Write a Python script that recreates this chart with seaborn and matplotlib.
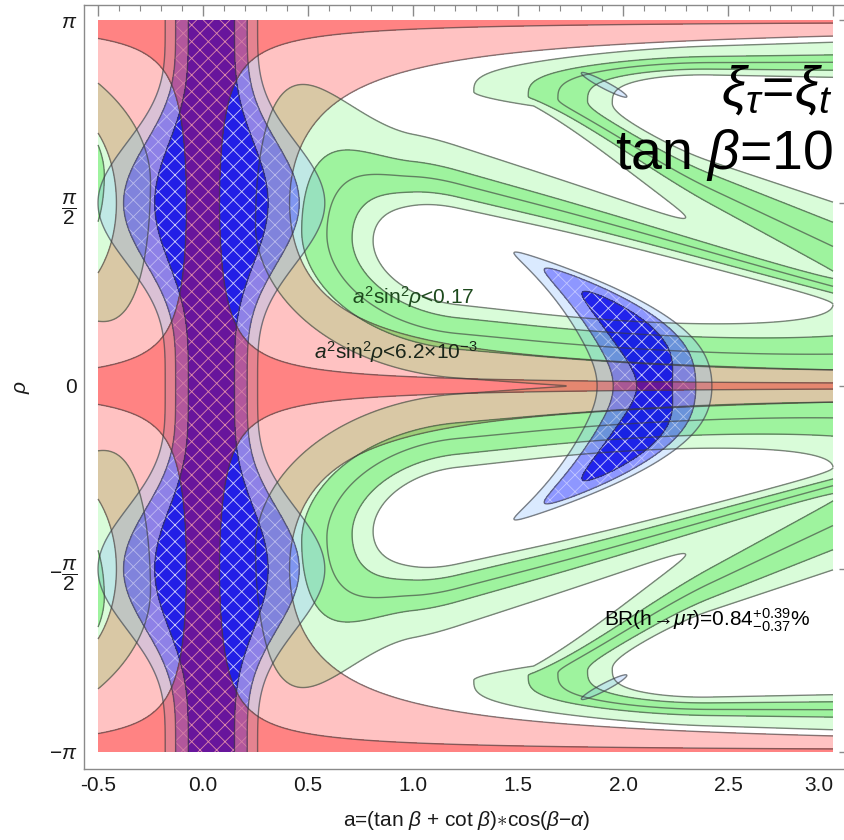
import numpy as np
import matplotlib
matplotlib.use("Agg")
import matplotlib.pyplot as plt
import seaborn as sns

sns.set_theme(style="white")
plt.rcParams['font.family'] = ['Liberation Sans', 'DejaVu Sans']
plt.rcParams['mathtext.fontset'] = 'custom'
plt.rcParams['mathtext.rm'] = 'Liberation Sans'
plt.rcParams['mathtext.it'] = 'Liberation Sans:italic'
plt.rcParams['mathtext.bf'] = 'Liberation Sans:bold'
plt.rcParams['hatch.color'] = (1, 1, 1, 0.35)
plt.rcParams['hatch.linewidth'] = 0.6

# constraint levels
red_levels = [6.2e-3, 0.17]                 # a^2 sin^2 rho bounds
green_levels = [1.0, 1.25, 1.55, 1.85, 2.4]  # BR(h->mu tau) band edges (scaled)
blue_levels = [0.25, 0.6, 1.0]              # signal strength fit contours

# green lobes: c0, c1, a0, wu0, wu1, wu2, wl0, wl1, tip, tip_len, end, end_len, upper_power
lobe_B = [1.20, -0.25, 1.00, 0.41, -0.14, 1.2, 0.46, -0.05, 1.21, 0.40, 1.55, 1.45, 1.0]
lobe_A = [2.40, -0.15, 2.13, 0.28, 0.115, 0.0, 0.30, 0.45, 2.42, 0.471, 99.0, 1.0, 1.5]

# blue regions
boomerang = [2.15, 0.5, 0.30, 0.15, 1.15, 0.17]  # a_tip, bend, width, width_bend, rho_len, waist
column = [0.04, 0.22, 0.32]                      # center, base width, bulge
sliver = [1.91, 2.585, 0.215, -0.21, 0.15, 0.025]

xticks = [-0.5, 0.0, 0.5, 1.0, 1.5, 2.0, 2.5, 3.0]
yticks = [-np.pi, -np.pi / 2, 0, np.pi / 2, np.pi]
ytick_labels = [r'$-\pi$', r'$-\dfrac{\pi}{2}$', '0', r'$\dfrac{\pi}{2}$', r'$\pi$']

a = np.linspace(-0.5, 3.0, 1200)
rho = np.linspace(-np.pi, np.pi, 1200)
A, RHO = np.meshgrid(a, rho)

# negative a is the same point as (|a|, rho + pi)
am = np.abs(A)
rm = np.where(A < 0, (RHO + 2 * np.pi) % (2 * np.pi) - np.pi, RHO)
ra = np.abs(rm)


def lobe_dist(x, r, p):
    c0, c1, a0, wu0, wu1, wu2, wl0, wl1, t, l, e, m, pu = p
    c = c0 + c1 * (x - a0)
    wu = np.clip(wu0 + wu1 * (x - a0) + wu2 * np.minimum(0, x - a0) ** 2, 0.05, None)
    wl = np.clip(wl0 + wl1 * (x - a0), 0.05, None)
    q = np.where(r > c, (np.abs(r - c) / wu) ** pu, np.abs(r - c) / wl)
    T = np.maximum(0, (t - x) / l)
    E = np.maximum(0, (x - e) / m)
    return np.sqrt(q ** 2 + T ** 2 + E ** 2)


dA = lobe_dist(am, ra, lobe_A)
dB = lobe_dist(am, ra, lobe_B)
k = 6.0
G = -np.log(np.exp(-k * dA) + np.exp(-k * dB)) / k

R = A ** 2 * np.sin(RHO) ** 2

# blue
ab, bend, wb, wbb, rl, waist = boomerang
Qb = ((am - (ab - bend * rm ** 2)) / (wb - wbb * rm ** 2)) ** 2 + (rm / rl) ** 4 \
    + waist * np.exp(-(rm / 0.35) ** 2)
Qb = np.where(am > 0.5, Qb, 10.0)
c0, cw, cb = column
Qc = ((A - c0) / (cw + cb * np.sin(RHO) ** 4)) ** 2
sa, sr, da, dr, sl, sw = sliver
nrm = np.hypot(da, dr)
u = ((am - sa) * da + (ra - sr) * dr) / nrm
v = (-(am - sa) * dr + (ra - sr) * da) / nrm
Qs = 0.75 + 0.25 * ((u / sl) ** 2 + (v / sw) ** 2)
Q = np.minimum(np.minimum(Qb, Qc), Qs)

fig = plt.figure(figsize=(8.44, 8.40), dpi=100)
ax = fig.add_axes([84 / 844, 71 / 840, 766 / 844, 764 / 840])

line_kw = dict(colors='#3c3c3c', linewidths=1.0, alpha=0.62)

# pink: a^2 sin^2 rho < 0.17
ax.contourf(A, RHO, R, levels=[-1, red_levels[1]], colors=['#ff0000'], alpha=0.24)

# green: BR(h -> mu tau)
ax.contourf(A, RHO, G, levels=[green_levels[0], green_levels[-1]], colors=['#00ee00'], alpha=0.15)
ax.contourf(A, RHO, G, levels=[green_levels[1], green_levels[3]], colors=['#00dd00'], alpha=0.27)

# blue: higgs fit
ax.contourf(A, RHO, Q, levels=[-1, blue_levels[2]], colors=['#8cc0ff'], alpha=0.32)
ax.contourf(A, RHO, Q, levels=[-1, blue_levels[1]], colors=['#3333ff'], alpha=0.45, hatches=['xx'])
ax.contourf(A, RHO, Q, levels=[-1, blue_levels[0]], colors=['#0000e6'], alpha=0.76, hatches=['xx'])

# dark red: a^2 sin^2 rho < 6.2e-3
ax.contourf(A, RHO, R, levels=[-1, red_levels[0]], colors=['#ff0000'], alpha=0.32)

ax.contour(A, RHO, R, levels=red_levels, **line_kw)
ax.contour(A, RHO, G, levels=green_levels, **line_kw)
ax.contour(A, RHO, Q, levels=blue_levels, **line_kw)

ax.set_xlim(-0.5 - 14 / 210, 3.0 + 17 / 210)
ax.set_ylim(-np.pi - 17 / 116.5, np.pi + 15 / 116.5)

ax.set_xticks(xticks)
ax.set_xticklabels([f'{t:.1f}' for t in xticks])
ax.get_xticklabels()[-1].set_horizontalalignment('right')
ax.set_xticks(np.arange(-0.5, 3.01, 0.1), minor=True)
ax.set_yticks(yticks)
ax.set_yticklabels(ytick_labels)
ax.set_yticks(np.arange(-6, 7) * np.pi / 6, minor=True)
ax.tick_params(which='both', direction='in', top=True, right=True,
               color='#8a8a8a', labelcolor='#1a1a1a', labelsize=15, pad=5)
ax.tick_params(which='major', length=8, width=1)
ax.tick_params(which='minor', length=4.5, width=0.8)
for s in ax.spines.values():
    s.set_color('#8a8a8a')
    s.set_linewidth(1.0)

ax.set_xlabel(r'a=(tan $\beta$ + cot $\beta$)$\ast$cos($\beta$$-$$\alpha$)', fontsize=15,
              color='#1a1a1a', labelpad=10)
ax.set_ylabel(r'$\rho$', fontsize=15, color='#1a1a1a', labelpad=12)

ax.text(3.0, 2.54, r'$\xi_\tau$=$\xi_t$', fontsize=40, ha='right', va='center', color='black')
ax.text(3.0, 1.98, r'tan $\beta$=10', fontsize=40, ha='right', va='center', color='black')
ax.text(1.0, 0.76, r'$a^2$sin$^2\rho$<0.17', fontsize=15, ha='center', va='center', color='#1d4a1d')
ax.text(0.92, 0.29, r'$a^2$sin$^2\rho$<6.2$\times$10$^{-3}$', fontsize=15, ha='center', va='center',
        color='#1a261a')
ax.text(2.40, -2.01, r'BR(h$\!\rightarrow\!\mu\tau$)=0.84$^{+0.39}_{-0.37}$%', fontsize=15,
        ha='center', va='center', color='black')

fig.savefig('out.png', dpi=100)
